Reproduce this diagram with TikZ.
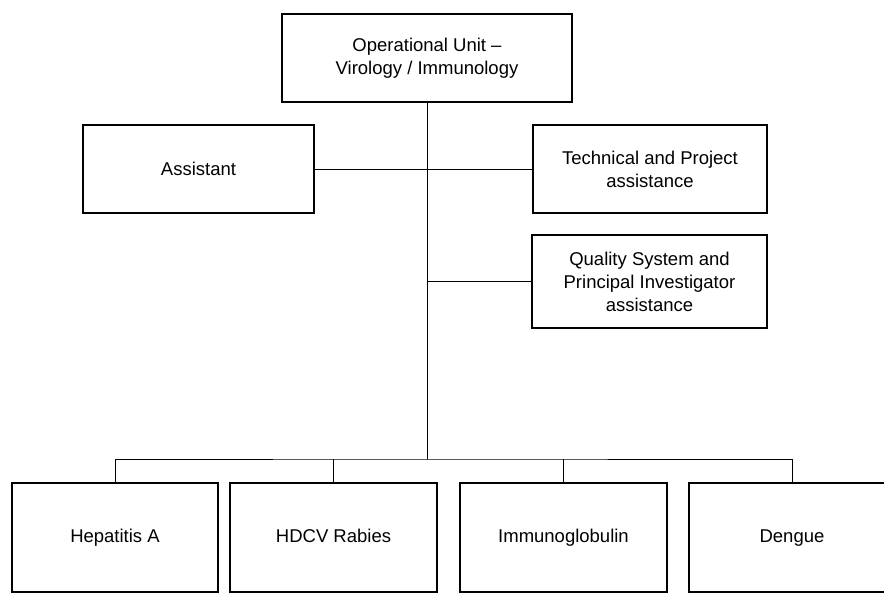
\documentclass[tikz,border=0pt]{standalone}
\usepackage{fontspec}
\setmainfont{Liberation Sans}
\usepackage{tikz}

\begin{document}
\begin{tikzpicture}[x=1pt, y=-1pt,
		box_style/.style={rectangle,draw=black,line width=1.8pt,fill=white,align=center,inner sep=0pt,font=\fontsize{18.5}{23}\selectfont},
		unit_style/.style={box_style,minimum height=109pt,text height=13.5pt,text depth=4pt},
		edge_style/.style={draw=black,line width=0.8pt}]

		\useasboundingbox (0,0) rectangle (884,594);

		\node[box_style,minimum width=290pt,minimum height=88pt] (n0) at (427,58)  {Operational Unit --\\Virology / Immunology};
		\node[box_style,minimum width=231pt,minimum height=88pt] (n1) at (198.5,169)  {Assistant};
		\node[box_style,minimum width=234pt,minimum height=88pt] (n2) at (650,169)  {Technical and Project\\assistance};
		\node[box_style,minimum width=235pt,minimum height=93pt] (n3) at (649.5,281.5)  {Quality System and\\Principal Investigator\\assistance};
		\node[unit_style,minimum width=206pt] (n4) at (115,537.5)  {Hepatitis A};
		\node[unit_style,minimum width=207pt] (n5) at (333.5,537.5)  {HDCV Rabies};
		\node[unit_style,minimum width=207pt] (n6) at (563.5,537.5)  {Immunoglobulin};
		\node[unit_style,minimum width=206pt] (n7) at (792,537.5)  {Dengue};
		\coordinate (bus) at (427,459);

		\draw[edge_style]  (n0) -- (bus);
		\draw[edge_style]  (n1) edge (n2);
		\draw[edge_style]  (n3.west) -- (n3.west -| bus);
		\draw[edge_style]  (n4.north) |- (bus) -| (n7.north);
		\draw[edge_style]  (n5.north) -- (n5.north |- bus);
		\draw[edge_style]  (n6.north) -- (n6.north |- bus);

\end{tikzpicture}
\end{document}
